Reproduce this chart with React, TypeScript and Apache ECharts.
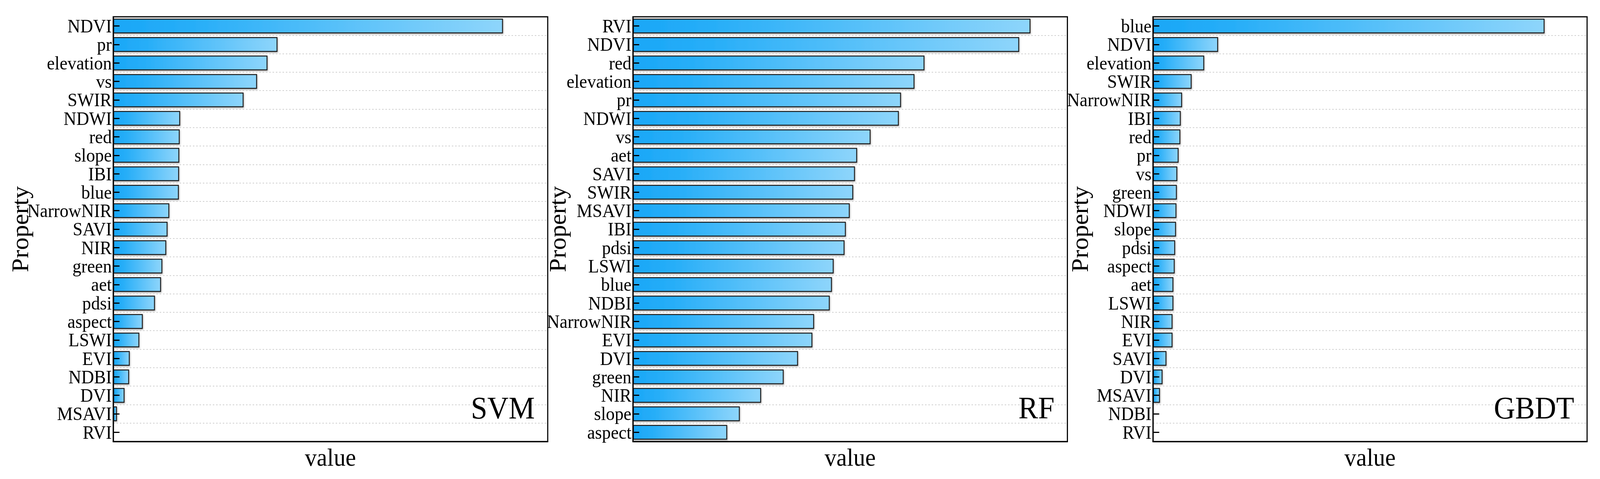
import React, { useEffect, useRef, useState } from "react";
import * as echarts from "echarts";

const W = 4338;
const H = 1227;

const svmCategories = ["NDVI", "pr", "elevation", "vs", "SWIR", "NDWI", "red", "slope", "IBI", "blue", "NarrowNIR", "SAVI", "NIR", "green", "aet", "pdsi", "aspect", "LSWI", "EVI", "NDBI", "DVI", "MSAVI", "RVI"];
const svmValues = [89.7, 37.8, 35.5, 33.1, 30.0, 15.4, 15.3, 15.2, 15.15, 15.1, 12.9, 12.5, 12.2, 11.3, 11.0, 9.6, 6.8, 6.0, 3.8, 3.65, 2.6, 0.85, 0];

const rfCategories = ["RVI", "NDVI", "red", "elevation", "pr", "NDWI", "vs", "aet", "SAVI", "SWIR", "MSAVI", "IBI", "pdsi", "LSWI", "blue", "NDBI", "NarrowNIR", "EVI", "DVI", "green", "NIR", "slope", "aspect"];
const rfValues = [91.5, 88.9, 67.1, 64.8, 61.7, 61.2, 54.7, 51.6, 51.1, 50.7, 49.9, 49.0, 48.7, 46.2, 45.8, 45.3, 41.7, 41.3, 38.0, 34.7, 29.5, 24.6, 21.7];

const gbdtCategories = ["blue", "NDVI", "elevation", "SWIR", "NarrowNIR", "IBI", "red", "pr", "vs", "green", "NDWI", "slope", "pdsi", "aspect", "aet", "LSWI", "NIR", "EVI", "SAVI", "DVI", "MSAVI", "NDBI", "RVI"];
const gbdtValues = [90.2, 15.0, 11.8, 8.9, 6.7, 6.4, 6.3, 5.9, 5.6, 5.5, 5.4, 5.3, 5.1, 5.0, 4.7, 4.7, 4.5, 4.5, 3.1, 2.2, 1.6, 0, 0];

const panelNames = ["SVM", "RF", "GBDT"];
const xAxisName = "value";
const yAxisName = "Property";

const FONT = "Liberation Serif";

export default function App() {
  const ref = useRef<HTMLDivElement>(null);
  const [vw] = useState(() => (typeof window !== "undefined" ? window.innerWidth : W));
  const sx = Math.min(1, vw / W);

  useEffect(() => {
    if (!ref.current) return;
    const chart = echarts.init(ref.current, null, { renderer: "svg", width: W, height: H });

    const panels = [
      { cats: svmCategories, vals: svmValues, left: 307, width: 1178, nameGap: 220 },
      { cats: rfCategories, vals: rfValues, left: 1716, width: 1178, nameGap: 172 },
      { cats: gbdtCategories, vals: gbdtValues, left: 3126, width: 1177, nameGap: 166 },
    ];
    const top = 43;
    const height = 1088;

    const gradient = new echarts.graphic.LinearGradient(0, 0, 1, 0, [
      { offset: 0, color: "#1AA7F7" },
      { offset: 0.2, color: "#27AEF8" },
      { offset: 1, color: "#8ED5FB" },
    ]);

    const option: any = {
      animation: false,
      backgroundColor: "#ffffff",
      grid: panels.map((p) => ({
        left: p.left,
        top,
        width: p.width,
        height,
        show: true,
        z: 10,
        borderColor: "#000",
        borderWidth: 3,
        backgroundColor: "transparent",
        containLabel: false,
      })),
      xAxis: panels.map((p, i) => ({
        type: "value",
        gridIndex: i,
        min: 0,
        max: 100,
        name: xAxisName,
        nameLocation: "middle",
        nameGap: 8,
        nameMoveOverlap: false,
        nameTextStyle: { fontFamily: FONT, fontSize: 64, color: "#000" },
        axisLine: { show: true, lineStyle: { color: "#000", width: 3 } },
        axisTick: { show: false },
        axisLabel: { show: false },
        splitLine: { show: false },
      })),
      yAxis: panels.map((p, i) => ({
        type: "category",
        gridIndex: i,
        data: p.cats,
        inverse: true,
        z: 5,
        name: yAxisName,
        nameLocation: "middle",
        nameGap: p.nameGap,
        nameMoveOverlap: false,
        nameTextStyle: { fontFamily: FONT, fontSize: 64, color: "#000" },
        axisLine: { show: true, lineStyle: { color: "#000", width: 3 } },
        axisTick: { show: true, inside: true, length: 17, alignWithLabel: true, lineStyle: { color: "#000", width: 3 } },
        axisLabel: { show: true, margin: 4, interval: 0, fontFamily: FONT, fontSize: 48, color: "#000" },
        splitLine: { show: true, lineStyle: { color: "#cfcfcf", width: 2, type: [4, 5] } },
      })),
      series: panels.map((p, i) => ({
        type: "bar",
        xAxisIndex: i,
        yAxisIndex: i,
        data: p.vals,
        barCategoryGap: "20%",
        itemStyle: {
          color: gradient,
          borderColor: "#1c1c1c",
          borderWidth: 2.5,
          shadowColor: "rgba(0,0,0,0.35)",
          shadowBlur: 4,
          shadowOffsetX: 1,
          shadowOffsetY: 2,
        },
      })),
      graphic: panels.map((p, i) => ({
        type: "text",
        x: p.left + p.width - 35,
        y: 1045,
        z: 10,
        style: {
          text: panelNames[i],
          fontFamily: FONT,
          fontSize: 80,
          fill: "#000",
          align: "right",
          verticalAlign: "middle",
        },
      })),
    };

    chart.setOption(option);
    return () => chart.dispose();
  }, []);

  return (
    <div
      style={{
        position: "fixed",
        left: 0,
        top: 0,
        width: Math.round(W * sx),
        height: H,
        overflow: "hidden",
        background: "#fff",
      }}
    >
      <div
        ref={ref}
        style={{
          width: W,
          height: H,
          transform: `scaleX(${sx})`,
          transformOrigin: "0 0",
          background: "#fff",
        }}
      />
    </div>
  );
}
